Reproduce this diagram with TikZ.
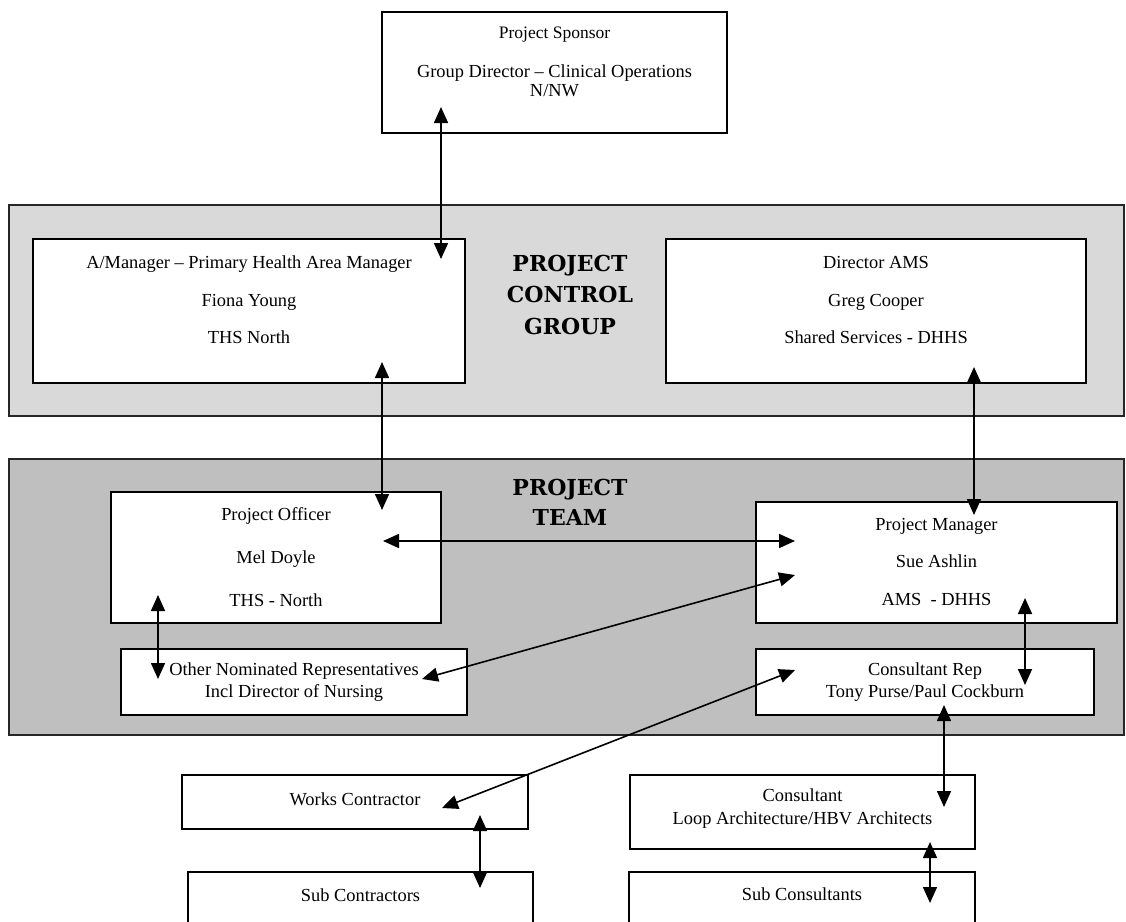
\documentclass[tikz,border=0pt]{standalone}
\usepackage{fontspec}
\setmainfont{Liberation Serif}
\newfontfamily\headfont{DejaVu Serif}
\usetikzlibrary{arrows.meta}

\begin{document}
\begin{tikzpicture}[x=1pt, y=-1pt, >={Triangle[width=14pt,length=16pt]},
    band/.style={draw=black!85, line width=1.3pt, inner sep=0pt},
    box/.style={draw, line width=1.8pt, fill=white, inner sep=0pt},
    lbl/.style={align=center, inner sep=0pt, font=\fontsize{18.4}{21.5}\selectfont},
    title/.style={align=center, inner sep=0pt, font=\headfont\bfseries\fontsize{22}{31.5}\selectfont},
    link/.style={<->, line width=1.6pt}]
\path[fill=white, use as bounding box] (0,0) rectangle (1126,921);

% the two groups
\node[band, fill=black!15, minimum width=1115, minimum height=211] (pcg) at (566.5,310.5) {};
\node[band, fill=black!25, minimum width=1115, minimum height=276] (team) at (566.5,597) {};
\node[title] (pcg-t) at (570,294.5) {PROJECT\\CONTROL\\GROUP};
\node[title, font=\headfont\bfseries\fontsize{22}{30}\selectfont] (team-t) at (570,502) {PROJECT\\TEAM};

% boxes
\node[box, minimum width=345, minimum height=121] (sponsor) at (554.5,72.5) {};
\node[box, minimum width=432, minimum height=144] (mgr) at (249,311) {};
\node[box, minimum width=420, minimum height=144] (ams) at (876,311) {};
\node[box, minimum width=330, minimum height=131] (po) at (276,557.5) {};
\node[box, minimum width=361, minimum height=121] (pm) at (936.5,562.5) {};
\node[box, minimum width=346, minimum height=66] (oth) at (294,682) {};
\node[box, minimum width=338, minimum height=66] (rep) at (925,682) {};
\node[box, minimum width=346, minimum height=54] (wc) at (355,802) {};
\node[box, minimum width=345, minimum height=74] (con) at (802.5,812) {};
\node[box, minimum width=345, minimum height=54] (subc) at (360.5,899) {};
\node[box, minimum width=346, minimum height=54] (subcon) at (802,899) {};

% texts
\node[lbl, font=\fontsize{18.4}{19.5}\selectfont] (sponsor-t) at (554.5,62)
    {{\fontsize{17.5}{19.5}\selectfont Project Sponsor}\\[19.5pt]Group Director – Clinical Operations\\N/NW};
\node[lbl] (mgr-t) at (249,300) {A/Manager – Primary Health Area Manager\\[16pt]Fiona Young\\[16pt]THS North};
\node[lbl] (ams-t) at (876,300) {Director AMS\\[16pt]Greg Cooper\\[16pt]Shared Services - DHHS};
\node[lbl] (po-t) at (276,557) {Project Officer\\[21.5pt]Mel Doyle\\[21.5pt]THS - North};
\node[lbl] (pm-t) at (936.5,561.5) {Project Manager\\[16pt]Sue Ashlin\\[16pt]AMS\ \ - DHHS};
\node[lbl, font=\fontsize{18.4}{22}\selectfont] (oth-t) at (294,682) {Other Nominated Representatives\\Incl Director of Nursing};
\node[lbl, font=\fontsize{18.4}{22}\selectfont] (rep-t) at (925,682) {Consultant Rep\\Tony Purse/Paul Cockburn};
\node[lbl] (wc-t) at (355,799) {Works Contractor};
\node[lbl, font=\fontsize{18.4}{23}\selectfont] (con-t) at (802.5,808.5) {Consultant\\Loop Architecture/HBV Architects};
\node[lbl] (subc-t) at (360.5,895) {Sub Contractors};
\node[lbl] (subcon-t) at (802,894) {Sub Consultants};

% arrow ends
\coordinate (sponsor-a) at (441,107);
\coordinate (mgr-a) at (441,259);
\coordinate (mgr-b) at (382,362);
\coordinate (po-a) at (382,510);
\coordinate (ams-a) at (974,367);
\coordinate (pm-a) at (974,515);
\coordinate (po-b) at (383,541);
\coordinate (pm-b) at (795,541);
\coordinate (pm-c) at (795,575);
\coordinate (oth-a) at (422,679);
\coordinate (po-c) at (158,595);
\coordinate (oth-b) at (158,679);
\coordinate (pm-d) at (1025,598);
\coordinate (rep-a) at (1025,685);
\coordinate (rep-b) at (795,670);
\coordinate (wc-a) at (442,808);
\coordinate (rep-c) at (944,705);
\coordinate (con-a) at (944,807);
\coordinate (wc-b) at (480,815);
\coordinate (subc-a) at (480,888);
\coordinate (con-b) at (930,842);
\coordinate (subcon-a) at (930,903);

\draw[link] (sponsor-a) -- (mgr-a);
\draw[link] (mgr-b) -- (po-a);
\draw[link] (ams-a) -- (pm-a);
\draw[link] (po-b) -- (pm-b);
\draw[link] (oth-a) -- (pm-c);
\draw[link] (po-c) -- (oth-b);
\draw[link] (pm-d) -- (rep-a);
\draw[link] (rep-b) -- (wc-a);
\draw[link] (rep-c) -- (con-a);
\draw[link] (wc-b) -- (subc-a);
\draw[link] (con-b) -- (subcon-a);
\end{tikzpicture}
\end{document}
